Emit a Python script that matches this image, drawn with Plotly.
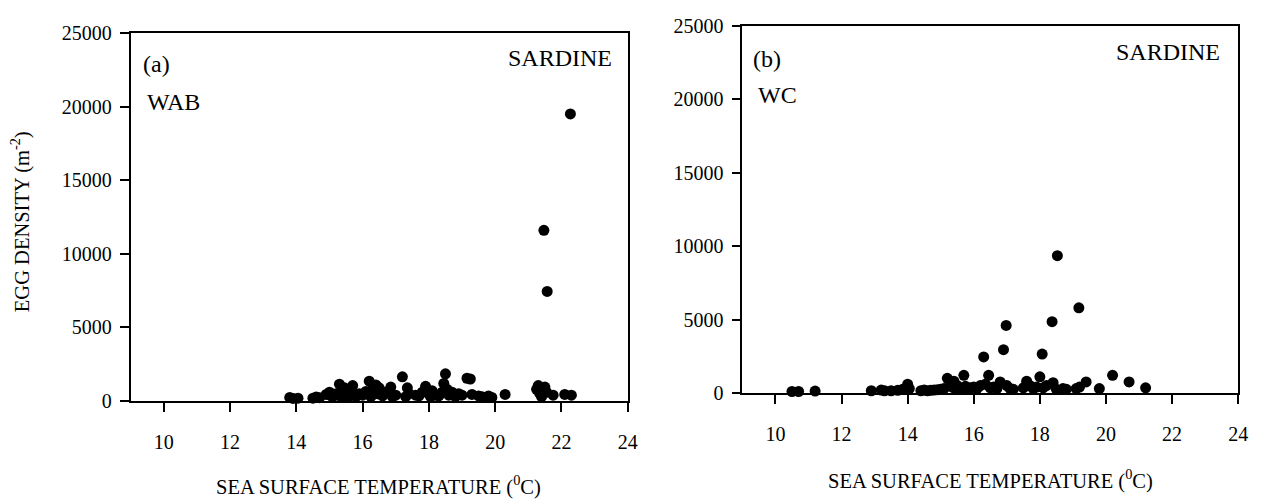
import plotly.graph_objects as go

# ---- data (a) WAB ----
wab_sst = [13.8, 13.9, 14.05, 14.5, 14.6, 14.7, 14.9, 15.0, 15.05, 15.1,
           15.2, 15.3, 15.35, 15.4, 15.45, 15.5, 15.55, 15.6, 15.7, 15.75, 15.8, 15.9,
           16.0, 16.1, 16.2, 16.25, 16.3, 16.4, 16.45, 16.5, 16.6, 16.7, 16.85, 16.9, 17.0,
           17.2, 17.3, 17.35, 17.4, 17.6, 17.7, 17.8, 17.9, 18.0, 18.05, 18.1, 18.2,
           18.3, 18.4, 18.45, 18.5, 18.55, 18.6, 18.7, 18.8, 18.9, 19.0,
           19.15, 19.25, 19.3, 19.5, 19.6, 19.7, 19.8, 19.9, 20.3,
           21.25, 21.3, 21.35, 21.4, 21.5, 21.55, 21.47, 21.57, 22.27, 21.75, 22.1, 22.3]
wab_egg = [250, 180, 200, 200, 280, 230, 450, 600, 350, 300,
           500, 1150, 300, 700, 900, 400, 250, 600, 1050, 450, 300, 500,
           400, 650, 1350, 300, 800, 1100, 500, 900, 350, 600, 950, 300, 400,
           1650, 300, 900, 500, 400, 350, 600, 1000, 500, 300, 700, 400,
           350, 600, 1200, 1850, 800, 400, 600, 300, 500, 400,
           1550, 1500, 450, 350, 300, 250, 350, 250, 450,
           800, 1050, 500, 300, 950, 600, 11600, 7450, 19500, 400, 450, 400]

# ---- data (b) WC ----
wc_sst = [10.5, 10.7, 11.2, 12.9, 13.2, 13.3, 13.5, 13.7, 13.85, 14.0, 14.05,
          14.4, 14.5, 14.6, 14.7, 14.8, 14.9, 15.0, 15.1,
          15.2, 15.3, 15.35, 15.4, 15.45, 15.5, 15.6, 15.7, 15.75, 15.8, 15.9,
          16.0, 16.1, 16.2, 16.3, 16.35, 16.45, 16.5, 16.6, 16.7, 16.8, 16.9, 16.98, 17.0, 17.1, 17.2,
          17.5, 17.6, 17.7, 17.8, 17.9, 18.0, 18.07, 18.1, 18.2, 18.37, 18.4, 18.5, 18.53,
          18.7, 18.8, 19.1, 19.18, 19.2, 19.4, 19.8, 20.2, 20.7, 21.2]
wc_egg = [100, 100, 130, 150, 200, 150, 150, 180, 250, 600, 300,
          150, 200, 150, 180, 200, 220, 250, 300,
          1000, 700, 400, 800, 250, 500, 300, 1200, 450, 250, 350,
          400, 300, 500, 2450, 600, 1200, 350, 400, 300, 750, 2950, 4600, 500, 300, 250,
          350, 800, 500, 300, 400, 1100, 2650, 350, 500, 4850, 700, 250, 9350,
          300, 250, 300, 5800, 400, 750, 300, 1200, 750, 350]

x_ticks = [10, 12, 14, 16, 18, 20, 22, 24]
y_ticks = [0, 5000, 10000, 15000, 20000, 25000]
y_tick_labels = ["0", "5000", "10000", "15000", "20000", "25000"]

FONT = "Liberation Serif"
W, H = 1269, 501

fig = go.Figure()
marker = dict(color="black", size=11, line=dict(width=0))
fig.add_trace(go.Scatter(x=wab_sst, y=wab_egg, mode="markers", marker=marker,
                         xaxis="x", yaxis="y", cliponaxis=False, showlegend=False))
fig.add_trace(go.Scatter(x=wc_sst, y=wc_egg, mode="markers", marker=marker,
                         xaxis="x2", yaxis="y2", cliponaxis=False, showlegend=False))

def xax(domain, anchor):
    return dict(domain=domain, anchor=anchor, range=[9, 24], tickvals=x_ticks,
                ticks="outside", ticklen=9, tickwidth=1.8, tickcolor="black",
                showline=True, linecolor="black", linewidth=1.8, mirror=True,
                showgrid=False, zeroline=False, ticklabelstandoff=13,
                tickfont=dict(family=FONT, size=20, color="black"))

def yax(domain, anchor):
    return dict(domain=domain, anchor=anchor, range=[0, 25000], tickvals=y_ticks,
                ticktext=y_tick_labels,
                ticks="outside", ticklen=9, tickwidth=1.8, tickcolor="black",
                showline=True, linecolor="black", linewidth=1.8, mirror=True,
                showgrid=False, zeroline=False, ticklabelstandoff=4,
                tickfont=dict(family=FONT, size=20, color="black"))

fig.update_layout(
    width=W, height=H,
    margin=dict(l=0, r=0, t=0, b=0),
    paper_bgcolor="white", plot_bgcolor="white",
    xaxis=xax([131.7 / W, 632.7 / W], "y"),
    yaxis=yax([1 - 408 / H, 1 - 23 / H], "x"),
    xaxis2=xax([748.3 / W, 1248 / W], "y2"),
    yaxis2=yax([1 - 399.5 / H, 1 - 15.5 / H], "x2"),
)

tf = dict(family=FONT, size=24, color="black")
af = dict(family=FONT, size=20.5, color="black")
ann = [
    dict(text="(a)", x=142 / W, y=1 - 55 / H, xanchor="left", yanchor="middle", font=tf),
    dict(text="WAB", x=146 / W, y=1 - 95 / H, xanchor="left", yanchor="middle", font=tf),
    dict(text="SARDINE", x=619 / W, y=1 - 49 / H, xanchor="right", yanchor="middle", font=tf),
    dict(text="(b)", x=757 / W, y=1 - 50 / H, xanchor="left", yanchor="middle", font=tf),
    dict(text="WC", x=762 / W, y=1 - 88 / H, xanchor="left", yanchor="middle", font=tf),
    dict(text="SARDINE", x=1232 / W, y=1 - 43 / H, xanchor="right", yanchor="middle", font=tf),
    dict(text="EGG DENSITY (m<sup>-2</sup>)", x=21 / W, y=1 - 220 / H, textangle=-90,
         xanchor="center", yanchor="middle", font=af),
    dict(text="SEA SURFACE TEMPERATURE (<sup>0</sup>C)", x=382 / W, y=1 - 496 / H,
         xanchor="center", yanchor="middle", font=af),
    dict(text="SEA SURFACE TEMPERATURE (<sup>0</sup>C)", x=998 / W, y=1 - 490 / H,
         xanchor="center", yanchor="middle", font=af),
]
for a in ann:
    a.update(xref="paper", yref="paper", showarrow=False)
fig.update_layout(annotations=ann)

fig.write_html("out.html")
